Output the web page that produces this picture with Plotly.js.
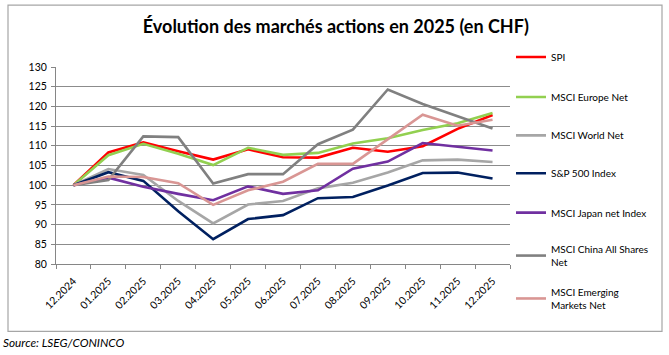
<!DOCTYPE html>
<html>
<head>
<meta charset="utf-8">
<script src="https://cdn.plot.ly/plotly-3.0.1.min.js"></script>
<style>html,body{margin:0;padding:0;background:#fff;}#chart{width:669px;height:355px;}</style>
</head>
<body>
<div id="chart"></div>
<script>
const categories = ["12.2024","01.2025","02.2025","03.2025","04.2025","05.2025","06.2025","07.2025","08.2025","09.2025","10.2025","11.2025","12.2025"];
const seriesNames = ["SPI","MSCI Europe Net","MSCI World Net","S&P 500 Index","MSCI Japan net Index","MSCI China All Shares<br>Net","MSCI Emerging<br>Markets Net"];
const spi      = [100, 108.3, 110.9, 108.6, 106.5, 109.1, 107.1, 107.0, 109.5, 108.5, 109.9, 114.3, 117.8];
const europe   = [100, 107.6, 110.5, 108.0, 105.1, 109.5, 107.7, 108.2, 110.6, 111.9, 114.0, 115.7, 118.3];
const world    = [100, 104.1, 102.6, 96.0, 90.3, 95.1, 96.0, 99.2, 100.6, 103.2, 106.3, 106.5, 105.9];
const sp500    = [100, 103.3, 101.1, 93.4, 86.3, 91.4, 92.4, 96.7, 97.0, 99.9, 103.1, 103.2, 101.7];
const japan    = [100, 101.9, 99.6, 97.8, 96.2, 99.7, 97.8, 98.7, 104.2, 106.0, 110.7, 109.8, 108.8];
const china    = [100, 101.3, 112.4, 112.2, 100.4, 102.8, 102.8, 110.4, 114.1, 124.3, 120.6, 117.5, 114.4];
const emerging = [100, 102.2, 102.1, 100.5, 95.0, 98.7, 100.9, 105.4, 105.4, 111.7, 117.9, 115.1, 116.6];

const allSeries = [spi, europe, world, sp500, japan, china, emerging];
const colors = ["#FF0000", "#92D050", "#A6A6A6", "#002060", "#7030A0", "#808080", "#D99694"];
const FONT = "Lato, 'Open Sans', sans-serif";

const legendIds = ["legend","legend2","legend3","legend4","legend5","legend6","legend7"];
const traces = allSeries.map((vals, i) => ({
  type: "scatter", mode: "lines",
  x: categories, y: vals, name: seriesNames[i],
  line: {color: colors[i], width: 2.6},
  legend: legendIds[i],
  hoverinfo: "x+y+name"
}));

const plotTop = 67, plotBottom = 264.5, plotH = plotBottom - plotTop;
const legendPixY = [50, 90, 128.5, 166.5, 206, 244, 287];
const layout = {
  width: 669, height: 355,
  margin: {l: 56, r: 159, t: plotTop, b: 355 - plotBottom, pad: 0},
  paper_bgcolor: "#ffffff", plot_bgcolor: "#ffffff",
  font: {family: FONT, size: 10, color: "#000"},
  title: {text: "Évolution des marchés actions en 2025 (en CHF)", x: 0.502, xanchor: "center", xref: "container",
          y: 1 - 27/355, yanchor: "middle", yref: "container",
          font: {family: FONT, size: 18, color: "#000", weight: "bold"}},
  xaxis: {type: "category", range: [-0.5, categories.length - 0.5], tickson: "boundaries", ticks: "outside", ticklen: 4, tickcolor: "#868686",
          showline: true, linecolor: "#868686", linewidth: 1, showgrid: false, tickangle: -45,
          ticklabelstandoff: 6,
          tickfont: {family: FONT, size: 10.5, color: "#000"}, zeroline: false, fixedrange: true},
  yaxis: {range: [80, 130], dtick: 5, tick0: 80, ticks: "outside", ticklen: 4, tickcolor: "#868686",
          showline: true, linecolor: "#868686", linewidth: 1, showgrid: true, gridcolor: "#8C8C8C", gridwidth: 1,
          ticklabelstandoff: 2,
          tickfont: {family: FONT, size: 10.5, color: "#000"}, zeroline: false, fixedrange: true},
  shapes: [{type: "rect", xref: "paper", yref: "paper",
            x0: (8 - 56) / 454, x1: (662 - 56) / 454,
            y0: (plotBottom - 332) / plotH, y1: (plotBottom - 5) / plotH,
            line: {color: "#A6A6A6", width: 1.2}, fillcolor: "rgba(0,0,0,0)", layer: "below"}],
  annotations: [{text: "<i>Source: LSEG/CONINCO</i>", xref: "paper", yref: "paper",
                 x: (1 - 56) / 454, xanchor: "left", y: (plotBottom - 343) / plotH, yanchor: "middle",
                 showarrow: false, font: {family: FONT, size: 11.8, color: "#000"}}],
  showlegend: true
};
legendIds.forEach((id, i) => {
  layout[id] = {x: (511 - 56) / 454, xanchor: "left", xref: "paper",
                y: (plotBottom - (legendPixY[i] - 7.5)) / plotH, yanchor: "top", yref: "paper",
                bgcolor: "rgba(0,0,0,0)", borderwidth: 0, itemwidth: 30,
                font: {family: FONT, size: 10, color: "#000"}, tracegroupgap: 0};
});
Plotly.newPlot("chart", traces, layout, {displayModeBar: false, staticPlot: true});
</script>
</body>
</html>
